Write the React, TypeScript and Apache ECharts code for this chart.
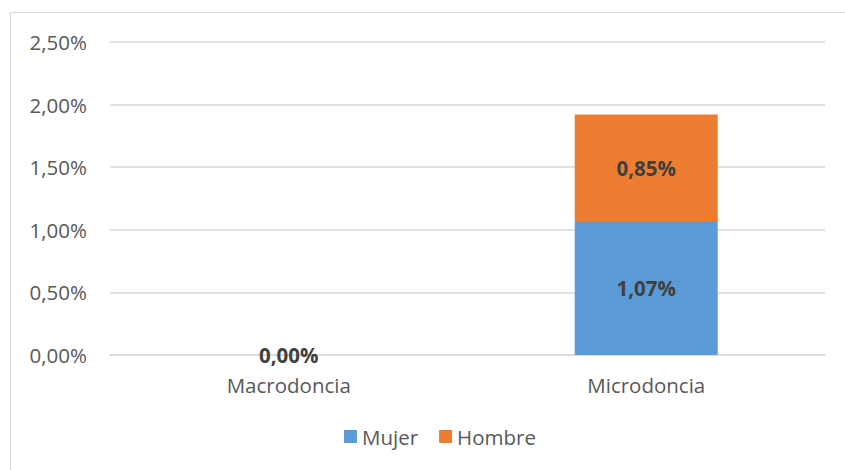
import React, { useEffect, useRef } from "react";
import * as echarts from "echarts";

const categories = ["Macrodoncia", "Microdoncia"];
const mujer = [0, 1.07];
const hombre = [0, 0.85];
const seriesNames = ["Mujer", "Hombre"];

const fmt = (v: number) => v.toFixed(2).replace(".", ",") + "%";

export default function App() {
  const ref = useRef<HTMLDivElement>(null);
  useEffect(() => {
    document.body.style.margin = "0";
    const chart = echarts.init(ref.current!, null, { renderer: "svg" });
    const font = "'Open Sans', sans-serif";
    const fs = 20.5;
    chart.setOption({
      animation: false,
      backgroundColor: "#fff",
      textStyle: { fontFamily: font },
      graphic: [
        {
          type: "rect",
          shape: { x: 10.5, y: 12.5, width: 860, height: 480 },
          style: { fill: "none", stroke: "#D9D9D9", lineWidth: 1 },
          silent: true,
        },
      ],
      grid: { left: 110, right: 20, top: 42, bottom: 115 },
      legend: {
        bottom: 18,
        left: 339,
        itemWidth: 13,
        itemHeight: 13,
        itemGap: 21,
        icon: "rect",
        textStyle: { fontSize: fs, color: "#595959", fontFamily: font },
        data: seriesNames,
      },
      xAxis: {
        type: "category",
        data: categories,
        axisLine: { lineStyle: { color: "#D9D9D9", width: 1.5 } },
        axisTick: { show: false },
        axisLabel: { fontSize: fs, color: "#595959", margin: 19, fontFamily: font },
      },
      yAxis: {
        type: "value",
        min: 0,
        max: 2.5,
        interval: 0.5,
        axisLine: { show: false },
        axisTick: { show: false },
        splitLine: { lineStyle: { color: "#D9D9D9", width: 1.5 } },
        axisLabel: {
          fontSize: fs,
          color: "#595959",
          margin: 23,
          fontFamily: font,
          formatter: (v: number) => fmt(v),
        },
      },
      series: [
        {
          name: seriesNames[0],
          type: "bar",
          stack: "total",
          barWidth: "40%",
          data: mujer,
          itemStyle: { color: "#5B9BD5" },
          label: {
            show: true,
            position: "inside",
            fontSize: fs,
            fontWeight: "bold",
            color: "#404040",
            fontFamily: font,
            formatter: (p: any) => fmt(p.value),
          },
        },
        {
          name: seriesNames[1],
          type: "bar",
          stack: "total",
          barWidth: "40%",
          data: hombre.map((v) => (v === 0 ? { value: v, label: { show: false } } : v)),
          itemStyle: { color: "#ED7D31" },
          label: {
            show: true,
            position: "inside",
            fontSize: fs,
            fontWeight: "bold",
            color: "#404040",
            fontFamily: font,
            formatter: (p: any) => fmt(p.value),
          },
        },
      ],
    });
    return () => chart.dispose();
  }, []);
  return <div ref={ref} style={{ width: 845, height: 470 }} />;
}
